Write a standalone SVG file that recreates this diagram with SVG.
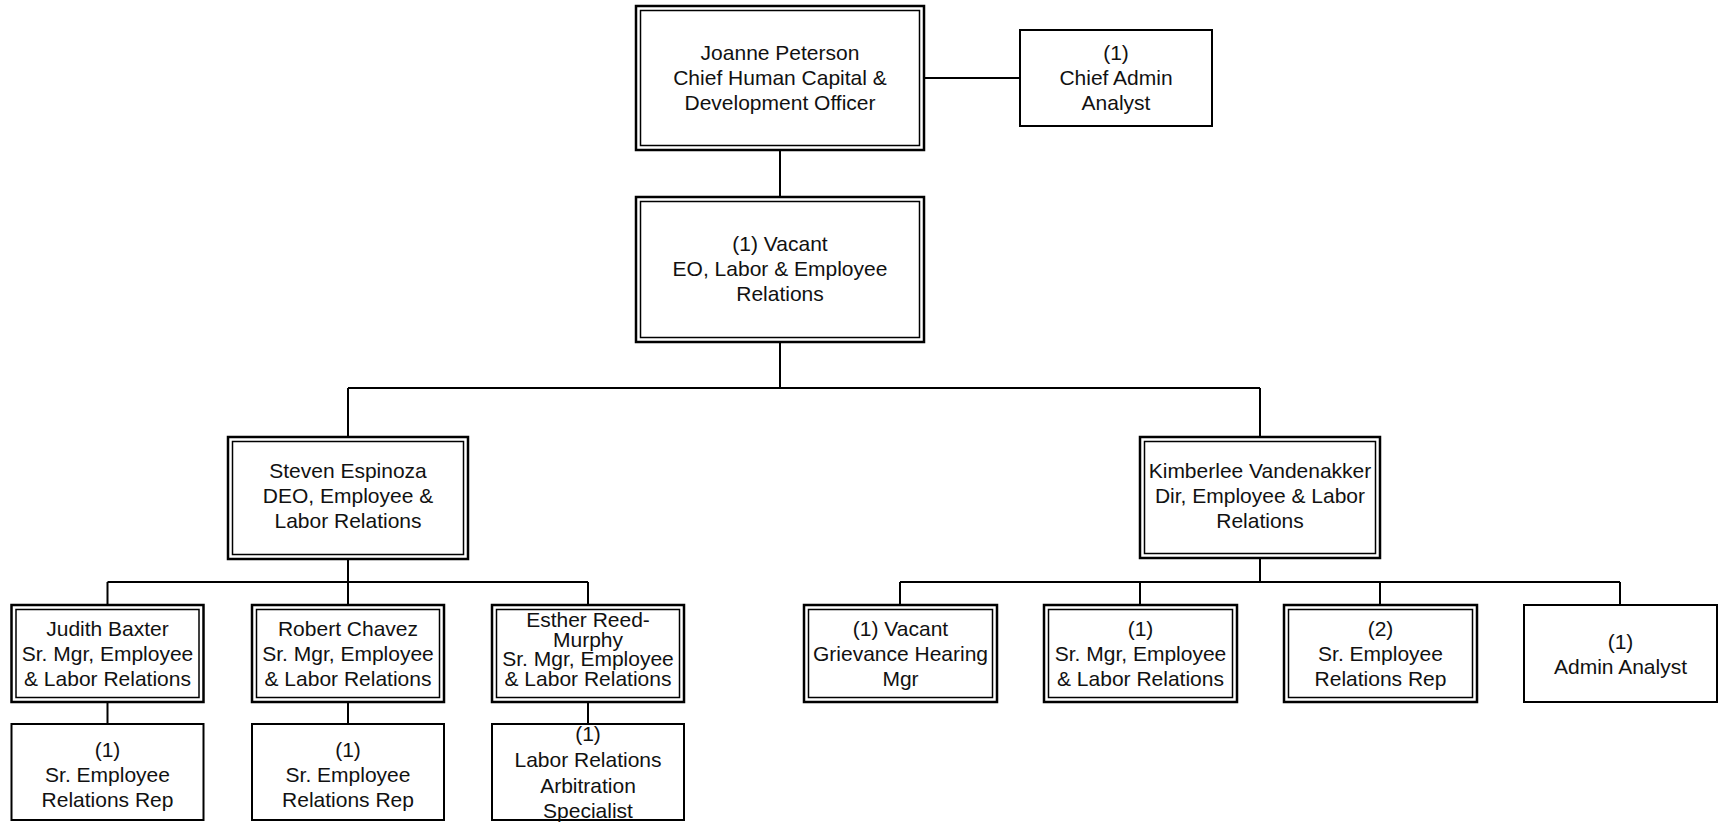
<svg xmlns="http://www.w3.org/2000/svg" width="1720" height="822" viewBox="0 0 1720 822">
<style>
  .bg{fill:#ffffff}
  .outer{fill:#ffffff;stroke:#000;stroke-width:2.5}
  .inner{fill:none;stroke:#000;stroke-width:1.5}
  .single{fill:#ffffff;stroke:#000;stroke-width:2}
  .conn{fill:none;stroke:#000;stroke-width:2}
  text{font-family:"Liberation Sans",Arial,sans-serif;font-size:21px;fill:#111;text-anchor:middle}
</style>
<rect class="bg" x="0" y="0" width="1720" height="822"/>
<g id="connectors">
  <path class="conn" d="M924,78 H1020"/>
  <path class="conn" d="M780,150 V197"/>
  <path class="conn" d="M780,342 V388 M348,388 H1260 M348,388 V437 M1260,388 V437"/>
  <path class="conn" d="M348,559 V582 M107.5,582 H588 M107.5,582 V605 M348,582 V605 M588,582 V605"/>
  <path class="conn" d="M1260,558 V582 M900,582 H1620 M900,582 V605 M1140,582 V605 M1380,582 V605 M1620,582 V605"/>
  <path class="conn" d="M107.5,702 V724 M348,702 V724 M588,702 V724"/>
</g>
<g id="n-peterson">
  <rect class="outer" x="636" y="6" width="288" height="144"/>
  <rect class="inner" x="640.5" y="10.5" width="279" height="135"/>
  <text x="780" y="60">Joanne Peterson</text>
  <text x="780" y="85">Chief Human Capital &amp;</text>
  <text x="780" y="110">Development Officer</text>
</g>
<g id="n-chief-admin">
  <rect class="single" x="1020" y="30" width="192" height="96"/>
  <text x="1116" y="60">(1)</text>
  <text x="1116" y="85">Chief Admin</text>
  <text x="1116" y="110">Analyst</text>
</g>
<g id="n-eo">
  <rect class="outer" x="636" y="197" width="288" height="145"/>
  <rect class="inner" x="640.5" y="201.5" width="279" height="136"/>
  <text x="780" y="251">(1) Vacant</text>
  <text x="780" y="276">EO, Labor &amp; Employee</text>
  <text x="780" y="301">Relations</text>
</g>
<g id="n-espinoza">
  <rect class="outer" x="228" y="437" width="240" height="122"/>
  <rect class="inner" x="232.5" y="441.5" width="231" height="113"/>
  <text x="348" y="478">Steven Espinoza</text>
  <text x="348" y="503">DEO, Employee &amp;</text>
  <text x="348" y="528">Labor Relations</text>
</g>
<g id="n-vandenakker">
  <rect class="outer" x="1140" y="437" width="240" height="121"/>
  <rect class="inner" x="1144.5" y="441.5" width="231" height="112"/>
  <text x="1260" y="478">Kimberlee Vandenakker</text>
  <text x="1260" y="503">Dir, Employee &amp; Labor</text>
  <text x="1260" y="528">Relations</text>
</g>
<g id="n-baxter">
  <rect class="outer" x="11.5" y="605" width="192" height="97"/>
  <rect class="inner" x="16" y="609.5" width="183" height="88"/>
  <text x="107.5" y="636">Judith Baxter</text>
  <text x="107.5" y="661">Sr. Mgr, Employee</text>
  <text x="107.5" y="686">&amp; Labor Relations</text>
</g>
<g id="n-chavez">
  <rect class="outer" x="252" y="605" width="192" height="97"/>
  <rect class="inner" x="256.5" y="609.5" width="183" height="88"/>
  <text x="348" y="636">Robert Chavez</text>
  <text x="348" y="661">Sr. Mgr, Employee</text>
  <text x="348" y="686">&amp; Labor Relations</text>
</g>
<g id="n-reed-murphy">
  <rect class="outer" x="492" y="605" width="192" height="97"/>
  <rect class="inner" x="496.5" y="609.5" width="183" height="88"/>
  <text x="588" y="627">Esther Reed-</text>
  <text x="588" y="647">Murphy</text>
  <text x="588" y="666">Sr. Mgr, Employee</text>
  <text x="588" y="686">&amp; Labor Relations</text>
</g>
<g id="n-baxter-rep">
  <rect class="single" x="11.5" y="724" width="192" height="96"/>
  <text x="107.5" y="757">(1)</text>
  <text x="107.5" y="782">Sr. Employee</text>
  <text x="107.5" y="807">Relations Rep</text>
</g>
<g id="n-chavez-rep">
  <rect class="single" x="252" y="724" width="192" height="96"/>
  <text x="348" y="757">(1)</text>
  <text x="348" y="782">Sr. Employee</text>
  <text x="348" y="807">Relations Rep</text>
</g>
<g id="n-arbitration">
  <rect class="single" x="492" y="724" width="192" height="96"/>
  <text x="588" y="741">(1)</text>
  <text x="588" y="767">Labor Relations</text>
  <text x="588" y="793">Arbitration</text>
  <text x="588" y="818">Specialist</text>
</g>
<g id="n-grievance">
  <rect class="outer" x="804" y="605" width="193" height="97"/>
  <rect class="inner" x="808.5" y="609.5" width="184" height="88"/>
  <text x="900.5" y="636">(1) Vacant</text>
  <text x="900.5" y="661">Grievance Hearing</text>
  <text x="900.5" y="686">Mgr</text>
</g>
<g id="n-sr-mgr">
  <rect class="outer" x="1044" y="605" width="193" height="97"/>
  <rect class="inner" x="1048.5" y="609.5" width="184" height="88"/>
  <text x="1140.5" y="636">(1)</text>
  <text x="1140.5" y="661">Sr. Mgr, Employee</text>
  <text x="1140.5" y="686">&amp; Labor Relations</text>
</g>
<g id="n-sr-rep">
  <rect class="outer" x="1284" y="605" width="193" height="97"/>
  <rect class="inner" x="1288.5" y="609.5" width="184" height="88"/>
  <text x="1380.5" y="636">(2)</text>
  <text x="1380.5" y="661">Sr. Employee</text>
  <text x="1380.5" y="686">Relations Rep</text>
</g>
<g id="n-admin-analyst">
  <rect class="single" x="1524" y="605" width="193" height="97"/>
  <text x="1620.5" y="649">(1)</text>
  <text x="1620.5" y="674">Admin Analyst</text>
</g>
</svg>
